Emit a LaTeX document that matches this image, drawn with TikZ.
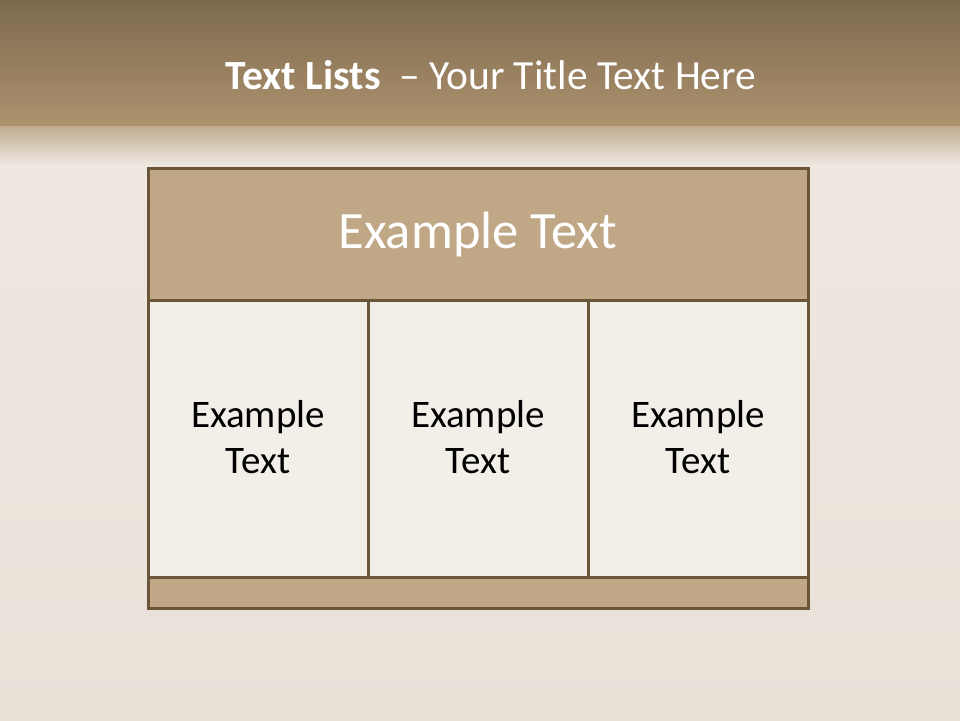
\documentclass[tikz,border=0pt]{standalone}
\usepackage{fontspec}
\setmainfont{Carlito}
\definecolor{bandtop}{HTML}{7D6A4E}
\definecolor{bandbot}{HTML}{AD926E}
\definecolor{bglight}{HTML}{EEE8E1}
\definecolor{bgmid}{HTML}{E9E1D8}
\definecolor{framec}{HTML}{6B5538}
\definecolor{headc}{HTML}{C0A887}
\definecolor{cellc}{HTML}{F2EEE8}
\tikzset{
  panel/.style={draw=framec, line width=3pt},
  headbox/.style={panel, fill=headc},
  cellbox/.style={panel, fill=cellc},
  celltext/.style={font=\fontsize{39}{46}\selectfont, text=black, align=center},
  headtext/.style={font=\fontsize{52.5}{60}\selectfont, text=white},
  titletext/.style={font=\fontsize{41.5}{48}\selectfont, text=white}
}
\begin{document}
\begin{tikzpicture}[x=1pt,y=-1pt]
\useasboundingbox (0,0) rectangle (960,720);
% background
\fill[bglight] (0,0) rectangle (960,720);
\shade[top color=bandtop, bottom color=bandbot] (0,0) rectangle (960,126);
\shade[top color=bandbot!70!bglight, bottom color=bglight] (0,126) rectangle (960,165);
\shade[top color=bglight, bottom color=bgmid] (0,165) rectangle (960,720);
% title
\node[titletext] (title) at (491,75) {\textbf{Text Lists}\ \ – Your Title Text Here};
% table
\draw[headbox] (148,168) rectangle (808,300);
\node[headtext] (headt) at (478,234) {Example Text};
\draw[cellbox] (148,300) rectangle (368,577);
\draw[cellbox] (368,300) rectangle (588,577);
\draw[cellbox] (588,300) rectangle (808,577);
\draw[headbox] (148,577) rectangle (808,608);
\node[celltext] (c1) at (258,437) {Example\\Text};
\node[celltext] (c2) at (478,437) {Example\\Text};
\node[celltext] (c3) at (698,437) {Example\\Text};
\end{tikzpicture}
\end{document}
